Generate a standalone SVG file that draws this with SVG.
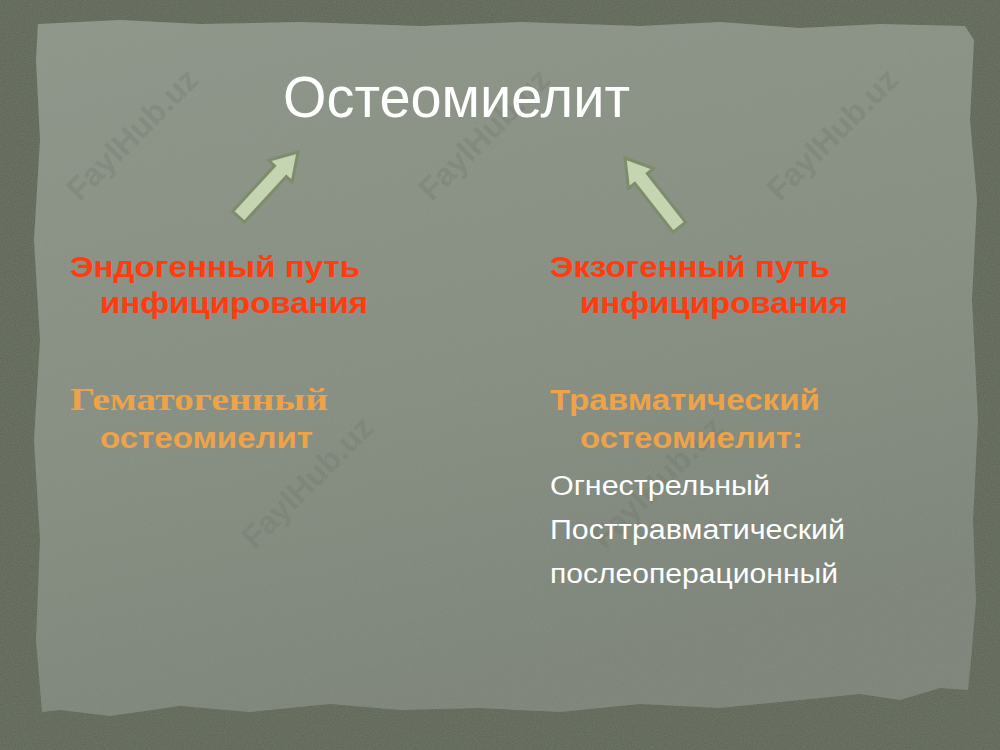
<svg xmlns="http://www.w3.org/2000/svg" width="1000" height="750" viewBox="0 0 1000 750">
<defs>
<style>
.title{font-family:"Liberation Sans",Arial,sans-serif;font-size:57px;fill:#ffffff}
.red{font-family:"Liberation Sans",Arial,sans-serif;font-weight:bold;font-size:30px;fill:#ff3b0f}
.org{font-family:"Liberation Sans",Arial,sans-serif;font-weight:bold;font-size:30px;fill:#eda34a}
.orgs{font-family:"Liberation Serif","DejaVu Serif",serif;font-weight:bold;font-size:31px;fill:#eda34a}
.wht{font-family:"Liberation Sans",Arial,sans-serif;font-size:27px;fill:#ffffff}
.wm{font-family:"Liberation Sans",Arial,sans-serif;font-weight:bold;font-size:32px;fill:#6f756b;opacity:0.3}
.arr{fill:#c6d5b1;stroke:#7d8d6c;stroke-width:3;stroke-linejoin:miter}
</style>
<linearGradient id="paper" x1="0" y1="0" x2="0.3" y2="1">
<stop offset="0" stop-color="#8d9589"/>
<stop offset="0.6" stop-color="#858c80"/>
<stop offset="1" stop-color="#7b8277"/>
</linearGradient>
<filter id="tex" x="0" y="0" width="100%" height="100%">
<feTurbulence type="fractalNoise" baseFrequency="0.9" numOctaves="2" seed="3" result="n"/>
<feColorMatrix in="n" type="matrix" values="0 0 0 0 0.35  0 0 0 0 0.38  0 0 0 0 0.33  0 0 0 0.25 0" result="c"/>
<feComposite in="c" in2="SourceGraphic" operator="in" result="m"/>
<feMerge><feMergeNode in="SourceGraphic"/><feMergeNode in="m"/></feMerge>
</filter>
<path id="arrow" d="M0,0 L16,26 L8,26 L8,88 L-8,88 L-8,26 L-16,26 Z"/>
</defs>
<rect x="0" y="0" width="1000" height="750" fill="#5c6353" filter="url(#tex)"/>
<path d="M38,24 L120,20 L200,24 L300,22 L420,26 L520,22 L640,26 L720,22 L800,28 L880,24 L965,26 L974,40 L970,120 L977,200 L972,300 L978,420 L973,520 L976,600 L971,660 L968,690 L940,688 L900,700 L860,694 L800,700 L720,708 L640,704 L560,712 L480,708 L400,710 L330,704 L250,712 L180,706 L110,716 L60,710 L42,712 L36,640 L40,540 L34,440 L40,340 L34,240 L40,140 L36,60 Z" fill="url(#paper)" filter="url(#tex)"/>
<g id="watermarks">
<text class="wm" transform="translate(140,142) rotate(-45)" text-anchor="middle">FaylHub.uz</text>
<text class="wm" transform="translate(492,142) rotate(-45)" text-anchor="middle">FaylHub.uz</text>
<text class="wm" transform="translate(840,142) rotate(-45)" text-anchor="middle">FaylHub.uz</text>
<text class="wm" transform="translate(315,490) rotate(-45)" text-anchor="middle">FaylHub.uz</text>
<text class="wm" transform="translate(665,490) rotate(-45)" text-anchor="middle">FaylHub.uz</text>
</g>
<g id="title"><text class="title" x="283" y="117" textLength="347" lengthAdjust="spacingAndGlyphs">Остеомиелит</text></g>
<g id="connectors">
<use href="#arrow" class="arr" transform="translate(298,152) rotate(42.6)"/>
<use href="#arrow" class="arr" transform="translate(625,158) rotate(-38.2)"/>
</g>
<g id="endo">
<text class="red" x="70" y="277" textLength="290" lengthAdjust="spacingAndGlyphs">Эндогенный путь</text>
<text class="red" x="100" y="313" textLength="268" lengthAdjust="spacingAndGlyphs">инфицирования</text>
</g>
<g id="hemato">
<text class="orgs" x="70" y="410" textLength="258" lengthAdjust="spacingAndGlyphs">Гематогенный</text>
<text class="org" x="100" y="448" textLength="213" lengthAdjust="spacingAndGlyphs">остеомиелит</text>
</g>
<g id="exo">
<text class="red" x="550" y="277" textLength="280" lengthAdjust="spacingAndGlyphs">Экзогенный путь</text>
<text class="red" x="580" y="313" textLength="268" lengthAdjust="spacingAndGlyphs">инфицирования</text>
</g>
<g id="trauma">
<text class="org" x="550" y="410" textLength="270" lengthAdjust="spacingAndGlyphs">Травматический</text>
<text class="org" x="580" y="448" textLength="223" lengthAdjust="spacingAndGlyphs">остеомиелит:</text>
<text class="wht" x="550" y="495" textLength="220" lengthAdjust="spacingAndGlyphs">Огнестрельный</text>
<text class="wht" x="550" y="539" textLength="295" lengthAdjust="spacingAndGlyphs">Посттравматический</text>
<text class="wht" x="550" y="583" textLength="288" lengthAdjust="spacingAndGlyphs">послеоперационный</text>
</g>
</svg>
